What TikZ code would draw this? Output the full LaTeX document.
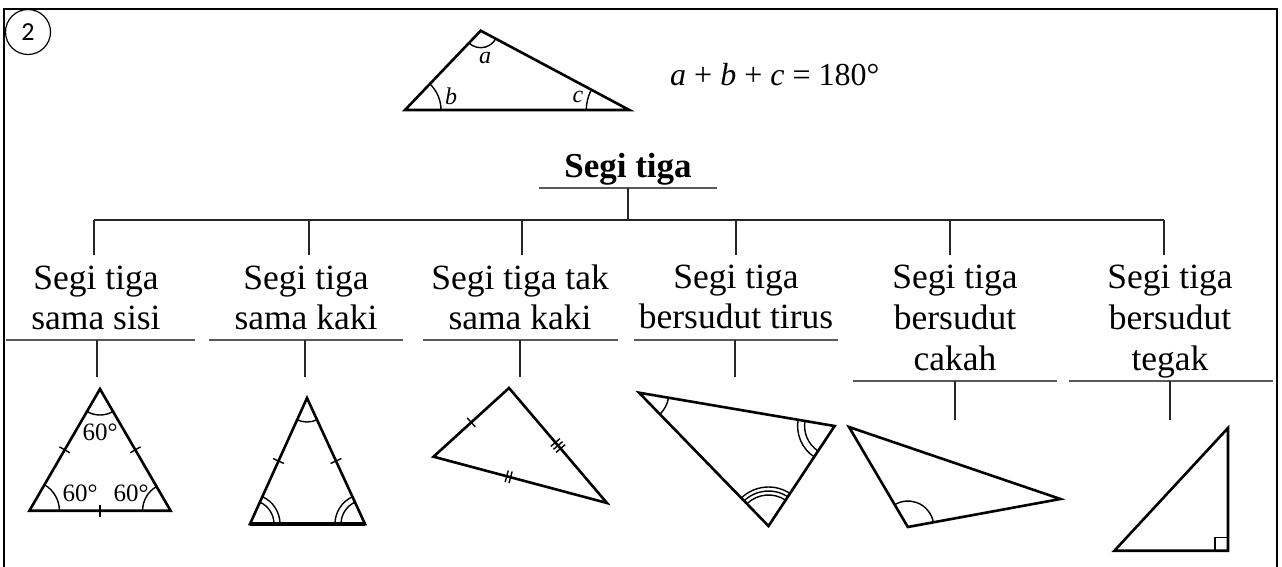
\documentclass[tikz,border=0pt]{standalone}
\usepackage{fontspec}
\setmainfont{Liberation Serif}
\newfontfamily\numfont{Carlito}
\usetikzlibrary{calc,angles}
\tikzset{
  lbl/.style={anchor=base, inner sep=0pt, font=\fontsize{35.5}{41}\selectfont},
  tree/.style={line width=1.2pt, draw=black!85},
  bar/.style={line width=2pt, draw=black!65},
  tri/.style={line width=2.6pt, line join=miter},
  arcl/.style={draw, line width=1.4pt},
  tk/.style={line width=1.4pt},
  deg/.style={inner sep=0pt, font=\fontsize{25}{28}\selectfont},
  alab/.style={inner sep=0pt, font=\fontsize{24}{28}\selectfont\itshape},
}
\newcommand\tickmark[3]{%
  \coordinate (tmid) at ($(#1)!0.5!(#2)$);
  \coordinate (tm) at ($(tmid)!#3!(#2)$);
  \draw[tk] ($(tm)!6pt!90:(#2)$) -- ($(tm)!6pt!-90:(#2)$);}
\begin{document}
\begin{tikzpicture}[x=1pt,y=-1pt]
\useasboundingbox (0,0) rectangle (1282,567);
% frame
\draw[line width=2pt] (4,567) -- (4,9.5) -- (1277,9.5) -- (1277,567);
\node[circle, draw, line width=1.2pt, minimum size=45pt, inner sep=0pt,
      font=\numfont\fontsize{26}{30}\selectfont] (num) at (28,32) {2};

% top triangle
\coordinate (T1) at (405,110);
\coordinate (T2) at (480.7,30.7);
\coordinate (T3) at (629.3,110);
\draw[tri] (T1) -- (T2) -- (T3) -- cycle;
\pic[arcl, angle radius=17pt] {angle = T1--T2--T3};
\pic[arcl, angle radius=36pt] {angle = T3--T1--T2};
\pic[arcl, angle radius=43pt] {angle = T2--T3--T1};
\node[alab] (la) at (485,58) {a};
\node[alab] (lb) at (451,96) {b};
\node[alab] (lc) at (578,97) {c};
\node[anchor=base west, inner sep=0pt, font=\fontsize{32}{36}\selectfont] (eq) at (670,86)
  {\textit{a} + \textit{b} + \textit{c} = 180°};

% heading and tree
\node[lbl, font=\fontsize{35}{41}\selectfont\bfseries] (head) at (628,177) {Segi tiga};
\coordinate (hbL) at (539,188); \coordinate (hbR) at (717,188);
\coordinate (hb) at (628,188); \coordinate (root) at (628,220);
\draw[bar] (hbL) -- (hbR);
\draw[tree] (hb) -- (root);
\foreach \i/\x in {1/94,2/309,3/522,4/736,5/950,6/1164}{
  \coordinate (h\i) at (\x,220);
  \coordinate (d\i) at (\x,255);
}
\draw[tree] (h1) -- (h6);
\foreach \i in {1,...,6}{ \draw[tree] (h\i) -- (d\i); }

% labels
\node[lbl] (c1a) at (96,289) {Segi tiga};
\node[lbl] (c1b) at (96,329) {sama sisi};
\node[lbl] (c2a) at (306,289) {Segi tiga};
\node[lbl] (c2b) at (306,329) {sama kaki};
\node[lbl] (c3a) at (520,289) {Segi tiga tak};
\node[lbl] (c3b) at (520,329) {sama kaki};
\node[lbl] (c4a) at (736,288) {Segi tiga};
\node[lbl] (c4b) at (736,328) {bersudut tirus};
\node[lbl] (c5a) at (955,288) {Segi tiga};
\node[lbl] (c5b) at (955,329) {bersudut};
\node[lbl] (c5c) at (955,370) {cakah};
\node[lbl] (c6a) at (1170,288) {Segi tiga};
\node[lbl] (c6b) at (1170,329) {bersudut};
\node[lbl] (c6c) at (1170,370) {tegak};

% bars and stems under labels
\foreach \i/\l/\r/\s/\y/\e in {1/6/195/97/340/377, 2/209/403/305/340/377, 3/423/618/520/340/377,
   4/634/838/735/340/377, 5/853/1057/955/380.5/420, 6/1069/1273/1170/380.5/420}{
  \coordinate (bL\i) at (\l,\y); \coordinate (bR\i) at (\r,\y);
  \coordinate (s\i) at (\s,\y); \coordinate (e\i) at (\s,\e);
  \draw[bar] (bL\i) -- (bR\i);
  \draw[tree] (s\i) -- (e\i);
}

% 1 equilateral
\coordinate (A1) at (29.4,510.7);
\coordinate (B1) at (170.6,510.7);
\coordinate (C1) at (100,389);
\draw[tri] (A1) -- (B1) -- (C1) -- cycle;
\pic[arcl, angle radius=30pt] {angle = B1--A1--C1};
\pic[arcl, angle radius=28pt] {angle = C1--B1--A1};
\pic[arcl, angle radius=26pt] {angle = A1--C1--B1};
\tickmark{A1}{B1}{0pt}
\tickmark{B1}{C1}{0pt}
\tickmark{C1}{A1}{0pt}
\node[deg] (g1) at (100,432.5) {60°};
\node[deg] (g2) at (80,493.5) {60°};
\node[deg] (g3) at (131,493.5) {60°};

% 2 isosceles
\coordinate (A2) at (250,524);
\coordinate (B2) at (365,524);
\coordinate (C2) at (307,398);
\draw[tri] (A2) -- (B2) -- (C2) -- cycle;
\draw[line width=3.4pt] (A2) -- (B2);
\pic[arcl, angle radius=24pt] {angle = A2--C2--B2};
\pic[arcl, angle radius=24pt] {angle = B2--A2--C2};
\pic[arcl, angle radius=30pt] {angle = B2--A2--C2};
\pic[arcl, angle radius=24pt] {angle = C2--B2--A2};
\pic[arcl, angle radius=30pt] {angle = C2--B2--A2};
\tickmark{A2}{C2}{0pt}
\tickmark{B2}{C2}{0pt}

% 3 scalene
\coordinate (A3) at (433.5,456.7);
\coordinate (B3) at (509,388);
\coordinate (C3) at (607,503);
\draw[tri] (A3) -- (B3) -- (C3) -- cycle;
\tickmark{A3}{B3}{0pt}
\tickmark{B3}{C3}{-4pt}
\tickmark{B3}{C3}{0pt}
\tickmark{B3}{C3}{4pt}
\tickmark{A3}{C3}{-14pt}
\tickmark{A3}{C3}{-10pt}

% 4 acute
\coordinate (A4) at (639,392.7);
\coordinate (B4) at (834.6,426);
\coordinate (C4) at (768.5,526);
\draw[tri] (A4) -- (B4) -- (C4) -- cycle;
\pic[arcl, angle radius=30pt] {angle = C4--A4--B4};
\pic[arcl, angle radius=30pt] {angle = A4--B4--C4};
\pic[arcl, angle radius=37pt] {angle = A4--B4--C4};
\pic[arcl, angle radius=31pt] {angle = B4--C4--A4};
\pic[arcl, angle radius=35pt] {angle = B4--C4--A4};
\pic[arcl, angle radius=39pt] {angle = B4--C4--A4};

% 5 obtuse
\coordinate (A5) at (849,427);
\coordinate (B5) at (1060.4,499);
\coordinate (C5) at (907.8,527);
\draw[tri] (A5) -- (B5) -- (C5) -- cycle;
\pic[arcl, angle radius=26pt] {angle = B5--C5--A5};

% 6 right
\coordinate (A6) at (1114.4,550.7);
\coordinate (B6) at (1228,550.7);
\coordinate (C6) at (1228,428);
\draw[tri] (A6) -- (B6) -- (C6) -- cycle;
\draw[line width=1.4pt] ($(B6)+(-13,0)$) -- ++(0,-13) -- ++(13,0);
\end{tikzpicture}
\end{document}
